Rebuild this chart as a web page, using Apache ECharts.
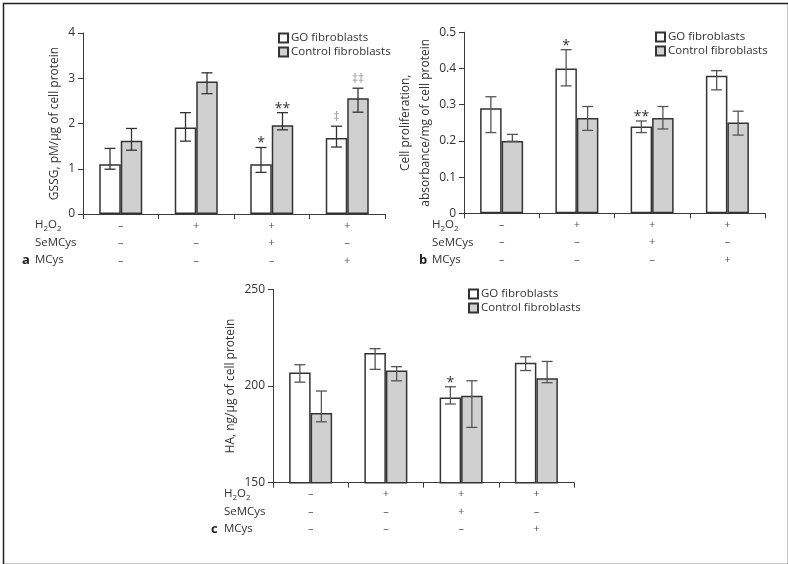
<!DOCTYPE html>
<html><head><meta charset="utf-8">
<script src="https://cdn.jsdelivr.net/npm/echarts@6/dist/echarts.min.js"></script>
<style>html,body{margin:0;padding:0;background:#fff}#c{width:788px;height:564px}</style>
</head><body><div id="c"></div>
<script>
// ---- data ----
const groups = ['G1', 'G2', 'G3', 'G4'];
const h2o2Marks   = ['–', '+', '+', '+'];
const semcysMarks = ['–', '–', '+', '–'];
const mcysMarks   = ['–', '–', '–', '+'];
const seriesNames = ['GO fibroblasts', 'Control fibroblasts'];

// a: GSSG
const gssgGO      = [1.10, 1.91, 1.10, 1.68];
const gssgGOLow   = [0.99, 1.61, 0.92, 1.48];
const gssgGOHigh  = [1.45, 2.24, 1.47, 1.94];
const gssgCtrl    = [1.62, 2.93, 1.96, 2.56];
const gssgCtrlLow = [1.41, 2.66, 1.86, 2.25];
const gssgCtrlHigh= [1.89, 3.12, 2.24, 2.78];
const gssgGOAnnot   = ['', '', '*', '‡'];
const gssgCtrlAnnot = ['', '', '**', '‡‡'];

// b: cell proliferation
const prolGO      = [0.29, 0.40, 0.24, 0.38];
const prolGOLow   = [0.223, 0.352, 0.223, 0.341];
const prolGOHigh  = [0.322, 0.452, 0.255, 0.394];
const prolCtrl    = [0.20, 0.263, 0.263, 0.251];
const prolCtrlLow = [0.199, 0.229, 0.233, 0.216];
const prolCtrlHigh= [0.218, 0.295, 0.295, 0.282];
const prolGOAnnot   = ['', '*', '**', ''];
const prolCtrlAnnot = ['', '', '', ''];

// c: HA
const haGO      = [207, 217, 194, 212];
const haGOLow   = [202, 208.6, 190.7, 208];
const haGOHigh  = [211, 219.3, 199.6, 215.1];
const haCtrl    = [186, 208, 195, 204];
const haCtrlLow = [181.5, 202.7, 178.6, 201.7];
const haCtrlHigh= [197.4, 210, 202.7, 212.7];
const haGOAnnot   = ['', '', '*', ''];
const haCtrlAnnot = ['', '', '', ''];

// ---- styling ----
const FONT = '"Open Sans", "Noto Sans", sans-serif';
const BW = 21.5;
const AX = '#3a3a3a';
const CTRL_FILL = '#d0d0d0';

const chart = echarts.init(document.getElementById('c'), null, {renderer: 'canvas'});

function xAxisCfg(gi) {
  return {
    type: 'category', gridIndex: gi, data: groups,
    axisLine: {lineStyle: {color: AX, width: 1}},
    axisTick: {show: true, length: 5, lineStyle: {color: AX}},
    axisLabel: {
      margin: 29, verticalAlign: 'middle', fontFamily: FONT, fontSize: 11, color: '#555', lineHeight: 17.5,
      formatter: (v, i) => h2o2Marks[i] + '\n' + semcysMarks[i] + '\n' + mcysMarks[i]
    }
  };
}
function yAxisCfg(gi, min, max, interval, name, gap) {
  return {
    type: 'value', gridIndex: gi, min, max, interval,
    splitLine: {show: false},
    axisLine: {show: true, lineStyle: {color: AX, width: 1}},
    axisTick: {show: true, length: 5, lineStyle: {color: AX}},
    axisLabel: {margin: 8, fontFamily: FONT, fontSize: 12, color: '#333'},
    name, nameLocation: 'middle', nameGap: gap,
    nameTextStyle: {fontFamily: FONT, fontSize: 12, color: '#333', lineHeight: 20}
  };
}
function barSeries(idx, name, data, fill) {
  return {
    type: 'bar', name, xAxisIndex: idx, yAxisIndex: idx, data,
    barWidth: BW, barGap: '0%',
    itemStyle: {color: fill, borderColor: '#333', borderWidth: 1.5},
    z: 2
  };
}
function errSeries(idx, side, low, high, annot, color) {
  const data = low.map((l, i) => [i, l, high[i]]);
  return {
    type: 'custom', xAxisIndex: idx, yAxisIndex: idx, data, z: 5,
    encode: {x: 0, y: [1, 2]}, silent: true,
    renderItem: (params, api) => {
      const i = api.value(0);
      const lo = api.coord([i, api.value(1)]);
      const hi = api.coord([i, api.value(2)]);
      const x = lo[0] + side * BW / 2;
      const cw = 5.5;
      const st = {stroke: color, lineWidth: 1.3};
      const children = [
        {type: 'line', shape: {x1: x, y1: lo[1], x2: x, y2: hi[1]}, style: st},
        {type: 'line', shape: {x1: x - cw, y1: lo[1], x2: x + cw, y2: lo[1]}, style: st},
        {type: 'line', shape: {x1: x - cw, y1: hi[1], x2: x + cw, y2: hi[1]}, style: st}
      ];
      const t = annot[i];
      if (t) {
        const isStar = t.indexOf('*') >= 0;
        children.push({
          type: 'text',
          style: {
            text: t, x: x, y: hi[1] - (isStar ? 4 : 9),
            align: 'center', verticalAlign: 'middle',
            font: (isStar ? '14px ' : '12px ') + FONT,
            fill: isStar ? '#333' : '#999'
          }
        });
      }
      return {type: 'group', children};
    }
  };
}
function legendCfg(left, top) {
  return {
    data: seriesNames, orient: 'vertical', left, top, padding: 0,
    itemWidth: 9, itemHeight: 9, itemGap: 0, icon: 'rect',
    textStyle: {fontFamily: FONT, fontSize: 11.5, color: '#333', lineHeight: 14, padding: [0, 0, 0, -2]},
    selectedMode: false
  };
}
function rowLabels(x, y0, letter) {
  const base = {fontFamily: FONT, fontSize: 11.5, fill: '#333'};
  const out = [
    {type: 'text', x: x, y: y0, style: {
      text: '{b|H}{s|2}{b|O}{s|2}', verticalAlign: 'middle',
      rich: {b: {fontFamily: FONT, fontSize: 11.5, fill: '#333', lineHeight: 16},
             s: {fontFamily: FONT, fontSize: 8, fill: '#333', verticalAlign: 'bottom', lineHeight: 13}}
    }},
    {type: 'text', x: x, y: y0 + 17.5, style: Object.assign({text: 'SeMCys', verticalAlign: 'middle'}, base)},
    {type: 'text', x: x, y: y0 + 35, style: Object.assign({text: 'MCys', verticalAlign: 'middle'}, base)},
    {type: 'text', x: x - 13, y: y0 + 35, style: {text: letter, verticalAlign: 'middle',
      fontFamily: FONT, fontWeight: 'bold', fontSize: 13, fill: '#222'}}
  ];
  return out;
}

const option = {
  backgroundColor: '#fff',
  animation: false,
  grid: [
    {left: 83, top: 33, width: 302, height: 181, outerBoundsMode: 'none'},
    {left: 464, top: 32.3, width: 301, height: 181, outerBoundsMode: 'none'},
    {left: 273, top: 289.3, width: 301, height: 193.4, outerBoundsMode: 'none'}
  ],
  xAxis: [xAxisCfg(0), xAxisCfg(1), xAxisCfg(2)],
  yAxis: [
    yAxisCfg(0, 0, 4, 1, 'GSSG, pM/µg of cell protein', 14),
    yAxisCfg(1, 0, 0.5, 0.1, 'Cell proliferation,\nabsorbance/mg of cell protein', 25),
    yAxisCfg(2, 150, 250, 50, 'HA, ng/µg of cell protein', 30)
  ],
  legend: [legendCfg(278, 31), legendCfg(655, 30), legendCfg(468, 287)],
  series: [
    barSeries(0, seriesNames[0], gssgGO, '#fff'),
    barSeries(0, seriesNames[1], gssgCtrl, CTRL_FILL),
    barSeries(1, seriesNames[0], prolGO, '#fff'),
    barSeries(1, seriesNames[1], prolCtrl, CTRL_FILL),
    barSeries(2, seriesNames[0], haGO, '#fff'),
    barSeries(2, seriesNames[1], haCtrl, CTRL_FILL),
    errSeries(0, -1, gssgGOLow, gssgGOHigh, gssgGOAnnot, '#333'),
    errSeries(0, 1, gssgCtrlLow, gssgCtrlHigh, gssgCtrlAnnot, '#333'),
    errSeries(1, -1, prolGOLow, prolGOHigh, prolGOAnnot, '#555'),
    errSeries(1, 1, prolCtrlLow, prolCtrlHigh, prolCtrlAnnot, '#555'),
    errSeries(2, -1, haGOLow, haGOHigh, haGOAnnot, '#555'),
    errSeries(2, 1, haCtrlLow, haCtrlHigh, haCtrlAnnot, '#555')
  ],
  graphic: [
    {type: 'rect', left: 1, top: 1, shape: {x: 0, y: 0, width: 785, height: 561},
     style: {fill: 'none', stroke: '#222', lineWidth: 1.5}, z: 100}
  ].concat(rowLabels(35, 225, 'a'), rowLabels(432, 225, 'b'), rowLabels(224, 494, 'c'))
};
chart.setOption(option);
</script>
</body></html>
